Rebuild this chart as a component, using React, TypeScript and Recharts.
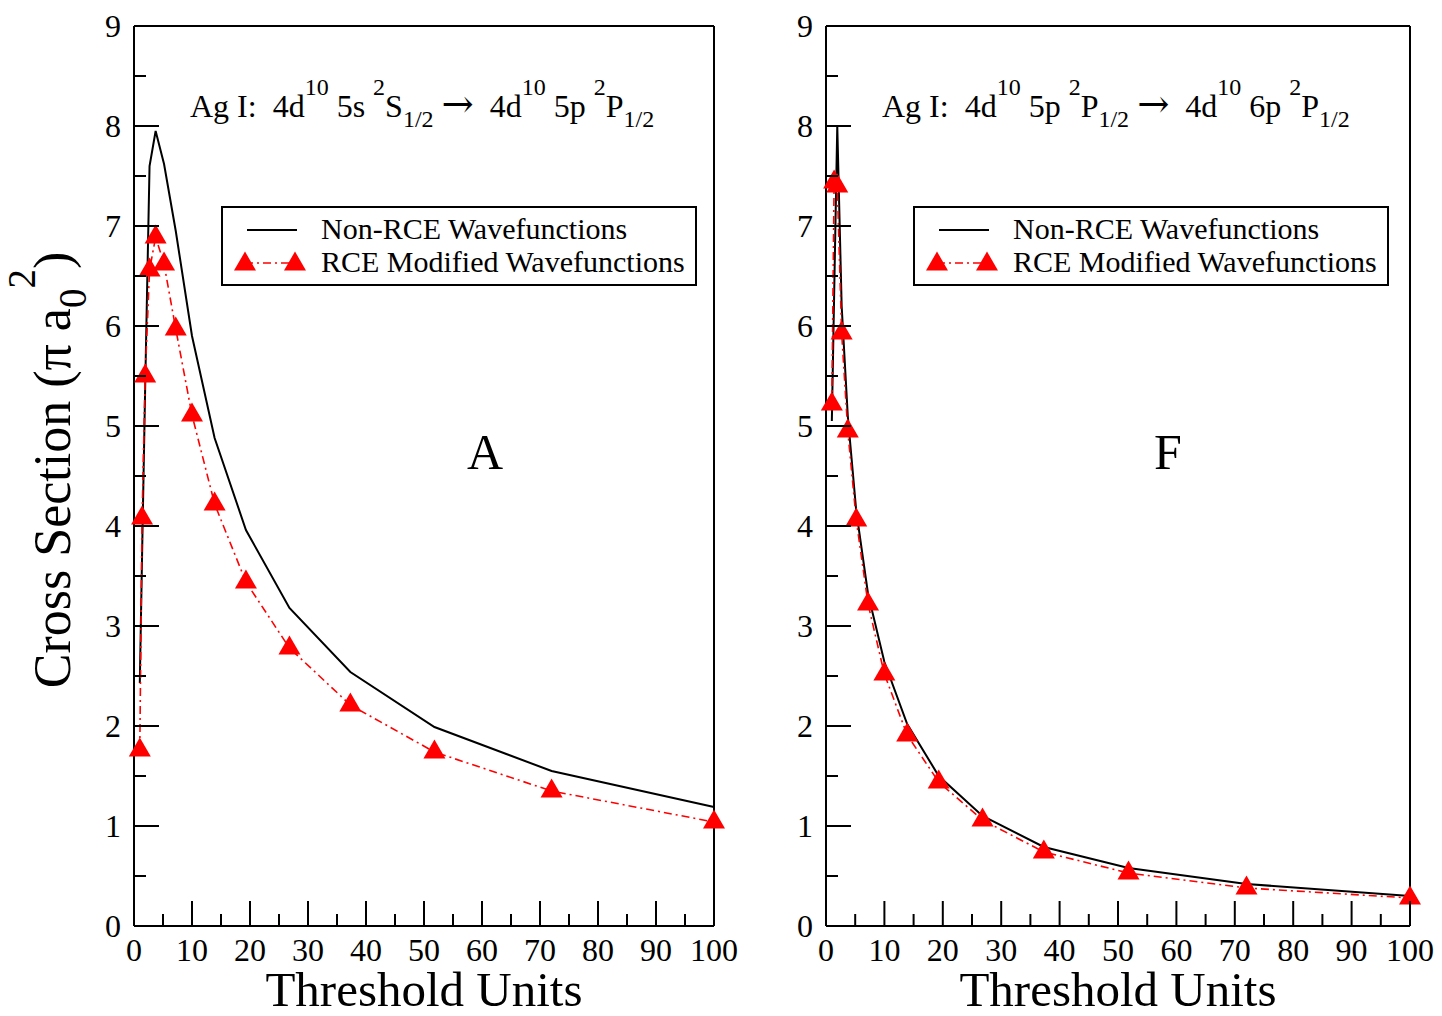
import React from "react";
import { LineChart, Line, XAxis, YAxis } from "recharts";

// threshold units (x) shared by both panels
const thresholdUnits = [1, 1.39, 1.93, 2.68, 3.73, 5.18, 7.2, 10, 13.9, 19.3, 26.8, 37.3, 51.8, 72, 100];

// panel A: 5s 2S1/2 -> 5p 2P1/2
const panelANonRce = [2.43, 3.7, 5.4, 7.6, 7.95, 7.62, 6.95, 5.9, 4.88, 3.96, 3.18, 2.54, 1.99, 1.55, 1.19];
const panelARce = [1.76, 4.08, 5.5, 6.56, 6.89, 6.62, 5.97, 5.11, 4.22, 3.44, 2.78, 2.21, 1.74, 1.35, 1.04];

// panel F: 5p 2P1/2 -> 6p 2P1/2
const panelFNonRce = [5.05, 6.3, 8.0, 6.2, 5.1, 4.15, 3.32, 2.64, 2.02, 1.5, 1.1, 0.79, 0.58, 0.42, 0.3];
const panelFRce = [5.22, 7.44, 7.4, 5.93, 4.95, 4.06, 3.22, 2.52, 1.91, 1.44, 1.06, 0.74, 0.53, 0.38, 0.28];

const xTicks = [0, 5, 10, 15, 20, 25, 30, 35, 40, 45, 50, 55, 60, 65, 70, 75, 80, 85, 90, 95, 100];
const yTicks = [0, 0.5, 1, 1.5, 2, 2.5, 3, 3.5, 4, 4.5, 5, 5.5, 6, 6.5, 7, 7.5, 8, 8.5, 9];

const FONT = '"Liberation Serif", "Times New Roman", serif';
const RED = "#ff0000";
const PLOT_TOP = 26;
const PLOT_BOTTOM = 926;

const toPoints = (ys: number[]) => thresholdUnits.map((x, i) => ({ x, y: ys[i] }));

const Sup = ({ children }: { children: React.ReactNode }) => (
  <span style={{ fontSize: "0.75em", position: "relative", top: "-0.9em" }}>{children}</span>
);
const Sub = ({ children }: { children: React.ReactNode }) => (
  <span style={{ fontSize: "0.75em", position: "relative", top: "0.42em" }}>{children}</span>
);
const Arrow = () => (
  <span style={{ fontFamily: '"DejaVu Serif", serif', fontSize: "1.2em", lineHeight: "1em" }}>→</span>
);

// inward ticks: the along-axis position comes from recharts, the axis line position from the plot box
const bottomTick = (axisY: number) => (p: any) => {
  const major = p.payload.value % 10 === 0;
  return (
    <g key={p.index}>
      <line x1={p.x} x2={p.x} y1={axisY} y2={axisY - (major ? 25 : 12)} stroke="#000" strokeWidth={2} />
      {major && (
        <text x={p.x} y={axisY + 35} textAnchor="middle" fontSize={32} fontFamily={FONT} fill="#000">
          {p.payload.value}
        </text>
      )}
    </g>
  );
};

const topTick = (axisY: number) => (p: any) => {
  const major = p.payload.value % 10 === 0;
  return <line key={p.index} x1={p.x} x2={p.x} y1={axisY} y2={axisY + (major ? 25 : 12)} stroke="#000" strokeWidth={2} />;
};

const leftTick = (axisX: number) => (p: any) => {
  const major = p.payload.value % 1 === 0;
  return (
    <g key={p.index}>
      <line x1={axisX} x2={axisX + (major ? 25 : 12)} y1={p.y} y2={p.y} stroke="#000" strokeWidth={2} />
      {major && (
        <text x={axisX - 13} y={p.y + 11} textAnchor="end" fontSize={32} fontFamily={FONT} fill="#000">
          {p.payload.value}
        </text>
      )}
    </g>
  );
};

const rightTick = (axisX: number) => (p: any) => {
  const major = p.payload.value % 1 === 0;
  return <line key={p.index} x1={axisX} x2={axisX - (major ? 25 : 12)} y1={p.y} y2={p.y} stroke="#000" strokeWidth={2} />;
};

const Triangle = (p: any) => {
  if (p.cx == null || p.cy == null) return <g key={p.index} />;
  const { cx, cy } = p;
  return (
    <polygon
      key={p.index}
      points={`${cx},${cy - 12.5} ${cx - 11},${cy + 6.5} ${cx + 11},${cy + 6.5}`}
      fill={RED}
    />
  );
};

type PanelProps = {
  left: number;
  width: number;
  marginLeft: number;
  marginRight: number;
  nonRce: number[];
  rce: number[];
  title: React.ReactNode;
  letter: string;
  letterDx: number;
};

function Panel({ left, width, marginLeft, marginRight, nonRce, rce, title, letter, letterDx }: PanelProps) {
  const axisLine = { stroke: "#000", strokeWidth: 2 };
  const plotRight = width - marginRight;
  // axes are 1px thick/wide so the plot box lands at marginLeft .. width - marginRight, 26 .. 926
  return (
    <div style={{ position: "absolute", left, top: 0, width, height: 1016, fontFamily: FONT }}>
      <LineChart width={width} height={1016}
        margin={{ top: PLOT_TOP - 1, right: marginRight - 1, bottom: 1016 - PLOT_BOTTOM - 1, left: marginLeft - 1 }}>
        <XAxis xAxisId="b" type="number" dataKey="x" domain={[0, 100]} ticks={xTicks} interval={0}
          height={1} tickSize={0} tickMargin={0} tickLine={false} axisLine={axisLine} tick={bottomTick(PLOT_BOTTOM)} />
        <XAxis xAxisId="t" orientation="top" type="number" dataKey="x" domain={[0, 100]} ticks={xTicks} interval={0}
          height={1} tickSize={0} tickMargin={0} tickLine={false} axisLine={axisLine} tick={topTick(PLOT_TOP)} />
        <YAxis yAxisId="l" type="number" domain={[0, 9]} ticks={yTicks} interval={0}
          width={1} tickSize={0} tickMargin={0} tickLine={false} axisLine={axisLine} tick={leftTick(marginLeft)} />
        <YAxis yAxisId="r" orientation="right" type="number" domain={[0, 9]} ticks={yTicks} interval={0}
          width={1} tickSize={0} tickMargin={0} tickLine={false} axisLine={axisLine} tick={rightTick(plotRight)} />
        <Line xAxisId="b" yAxisId="l" data={toPoints(nonRce)} dataKey="y" type="linear"
          stroke="#000" strokeWidth={2} dot={false} isAnimationActive={false} />
        <Line xAxisId="b" yAxisId="l" data={toPoints(rce)} dataKey="y" type="linear"
          stroke={RED} strokeWidth={1.6} strokeDasharray="8 4 2 4" dot={Triangle} isAnimationActive={false} />
      </LineChart>

      {/* transition title */}
      <div style={{ position: "absolute", left: marginLeft + 56, top: 85, fontSize: 32, lineHeight: "32px", whiteSpace: "pre" }}>
        {title}
      </div>

      {/* legend */}
      <div style={{ position: "absolute", left: marginLeft + 87, top: 206, width: 476, height: 80,
        border: "2px solid #000", boxSizing: "border-box", background: "#fff" }}>
        <svg width={100} height={80} style={{ position: "absolute", left: 0, top: 0 }}>
          <line x1={24} x2={74} y1={22} y2={22} stroke="#000" strokeWidth={2} />
          <line x1={22} x2={72} y1={55} y2={55} stroke={RED} strokeWidth={1.6} strokeDasharray="8 4 2 4" />
          <polygon points="22,43.5 11,62.5 33,62.5" fill={RED} />
          <polygon points="72,43.5 61,62.5 83,62.5" fill={RED} />
        </svg>
        <div style={{ position: "absolute", left: 98, top: 6, fontSize: 30, lineHeight: "30px", whiteSpace: "nowrap" }}>
          Non-RCE Wavefunctions
        </div>
        <div style={{ position: "absolute", left: 98, top: 39, fontSize: 30, lineHeight: "30px", whiteSpace: "nowrap" }}>
          RCE Modified Wavefunctions
        </div>
      </div>

      {/* panel letter */}
      <div style={{ position: "absolute", left: marginLeft + letterDx, top: 427, fontSize: 50, lineHeight: "50px",
        transform: "translateX(-50%)" }}>
        {letter}
      </div>
    </div>
  );
}

export default function App() {
  return (
    <div style={{ position: "absolute", left: 0, top: 0, width: 1442, height: 1016, background: "#fff", fontFamily: FONT }}>
      <Panel
        left={0}
        width={760}
        marginLeft={134}
        marginRight={46}
        nonRce={panelANonRce}
        rce={panelARce}
        letter="A"
        letterDx={351}
        title={
          <>
            Ag I:  4d<Sup>10</Sup> 5s <Sup>2</Sup>S<Sub>1/2</Sub> <Arrow />  4d<Sup>10</Sup> 5p <Sup>2</Sup>P<Sub>1/2</Sub>
          </>
        }
      />
      <Panel
        left={700}
        width={742}
        marginLeft={126}
        marginRight={32}
        nonRce={panelFNonRce}
        rce={panelFRce}
        letter="F"
        letterDx={342}
        title={
          <>
            Ag I:  4d<Sup>10</Sup> 5p <Sup>2</Sup>P<Sub>1/2</Sub> <Arrow />  4d<Sup>10</Sup> 6p <Sup>2</Sup>P<Sub>1/2</Sub>
          </>
        }
      />

      {/* shared y label */}
      <div style={{ position: "absolute", left: 55, top: 470, fontSize: 52, lineHeight: "52px", whiteSpace: "nowrap",
        transform: "translate(-50%, -50%) rotate(-90deg)" }}>
        Cross Section (π a<Sub>0</Sub><Sup>2</Sup>)
      </div>

      {/* x labels */}
      <div style={{ position: "absolute", left: 424, top: 970, fontSize: 49, lineHeight: "40px", whiteSpace: "nowrap",
        transform: "translateX(-50%)" }}>
        Threshold Units
      </div>
      <div style={{ position: "absolute", left: 1118, top: 970, fontSize: 49, lineHeight: "40px", whiteSpace: "nowrap",
        transform: "translateX(-50%)" }}>
        Threshold Units
      </div>
    </div>
  );
}
